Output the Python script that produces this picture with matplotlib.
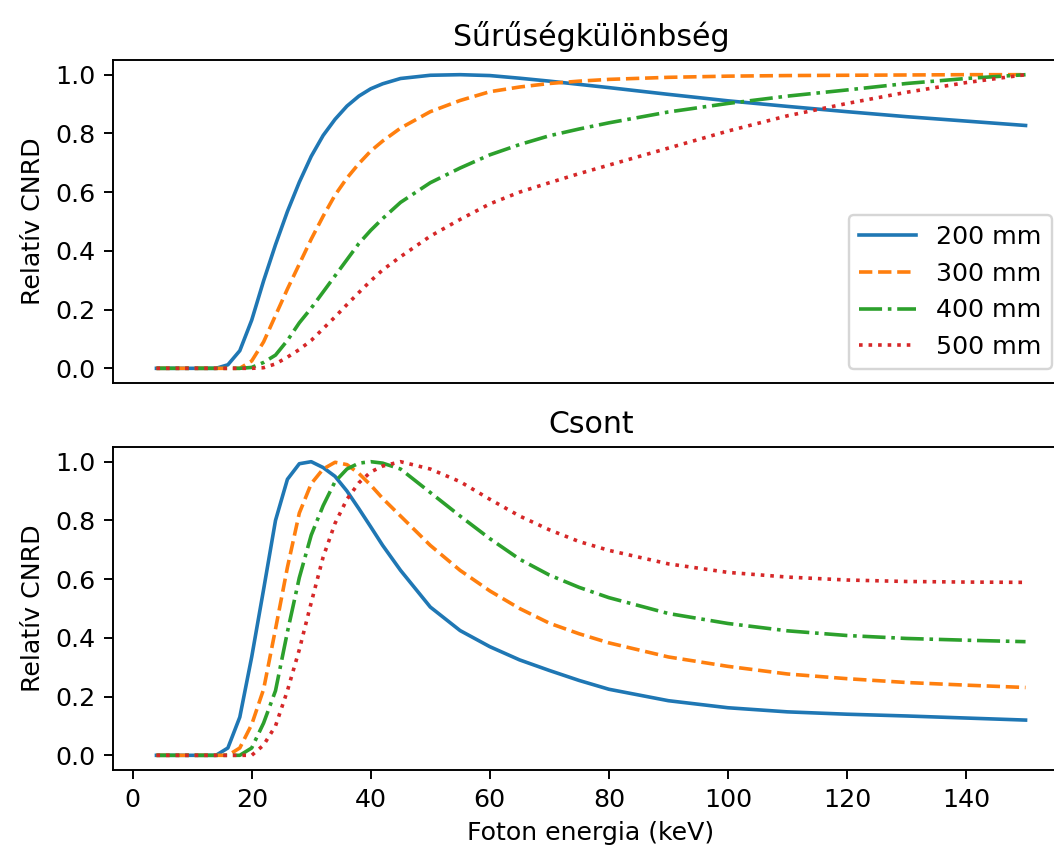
import numpy as np
import matplotlib
matplotlib.use('Agg')
import matplotlib.pyplot as plt

# Relative CNRD vs photon energy for different phantom thicknesses
energy = np.array([4, 10, 14, 16, 18, 20, 22, 24, 26, 28, 30, 32, 34, 36, 38, 40, 42, 45,
                   50, 55, 60, 65, 70, 75, 80, 90, 100, 110, 120, 130, 140, 150])  # keV

labels = ['200 mm', '300 mm', '400 mm', '500 mm']
styles = ['-', '--', '-.', ':']

# density difference contrast
dens_200 = [0, 0, 0, 0.012, 0.06, 0.164, 0.298, 0.421, 0.534, 0.634, 0.722, 0.793, 0.848, 0.893,
            0.927, 0.952, 0.969, 0.987, 0.998, 1.0, 0.997, 0.988, 0.978, 0.967, 0.956, 0.933,
            0.911, 0.892, 0.874, 0.857, 0.842, 0.827]
dens_300 = [0, 0, 0, 0, 0, 0.025, 0.09, 0.18, 0.27, 0.355, 0.44, 0.518, 0.59, 0.648, 0.697,
            0.74, 0.774, 0.818, 0.874, 0.912, 0.942, 0.958, 0.97, 0.978, 0.984, 0.991, 0.995,
            0.997, 0.998, 0.999, 1.0, 1.0]
dens_400 = [0, 0, 0, 0, 0, 0.003, 0.02, 0.045, 0.095, 0.155, 0.205, 0.26, 0.315, 0.37, 0.425,
            0.47, 0.51, 0.565, 0.632, 0.682, 0.727, 0.762, 0.792, 0.815, 0.836, 0.873, 0.902,
            0.927, 0.948, 0.97, 0.987, 1.0]
dens_500 = [0, 0, 0, 0, 0, 0, 0.002, 0.015, 0.038, 0.064, 0.095, 0.135, 0.175, 0.217, 0.258,
            0.298, 0.335, 0.38, 0.45, 0.507, 0.56, 0.6, 0.632, 0.663, 0.692, 0.75, 0.808,
            0.86, 0.902, 0.94, 0.973, 1.0]

# bone contrast
bone_200 = [0, 0, 0, 0.025, 0.13, 0.335, 0.565, 0.8, 0.94, 0.993, 1.0, 0.98, 0.95, 0.9, 0.84,
            0.778, 0.715, 0.63, 0.505, 0.425, 0.37, 0.325, 0.289, 0.255, 0.225, 0.186, 0.162,
            0.148, 0.14, 0.134, 0.127, 0.12]
bone_300 = [0, 0, 0, 0, 0.025, 0.105, 0.225, 0.43, 0.64, 0.825, 0.925, 0.975, 0.998, 0.99,
            0.96, 0.92, 0.875, 0.815, 0.715, 0.63, 0.56, 0.5, 0.45, 0.414, 0.383, 0.335, 0.303,
            0.277, 0.261, 0.248, 0.239, 0.231]
bone_400 = [0, 0, 0, 0, 0, 0.025, 0.11, 0.22, 0.42, 0.605, 0.75, 0.85, 0.932, 0.975, 0.995,
            1.0, 0.995, 0.975, 0.895, 0.815, 0.738, 0.668, 0.614, 0.572, 0.537, 0.483, 0.449,
            0.424, 0.408, 0.398, 0.392, 0.387]
bone_500 = [0, 0, 0, 0, 0, 0, 0.035, 0.1, 0.22, 0.36, 0.52, 0.675, 0.79, 0.872, 0.928, 0.965,
            0.985, 1.0, 0.975, 0.932, 0.872, 0.815, 0.768, 0.728, 0.698, 0.652, 0.623, 0.607,
            0.597, 0.592, 0.59, 0.589]

dens = [dens_200, dens_300, dens_400, dens_500]
bone = [bone_200, bone_300, bone_400, bone_500]

plt.rcParams['font.size'] = 10.5
plt.rcParams['axes.titlesize'] = 12.5
plt.rcParams['xtick.major.size'] = 3.9
plt.rcParams['ytick.major.size'] = 3.9

dpi = 173
W, H = 1054, 850
fig = plt.figure(figsize=(W / dpi, H / dpi), dpi=dpi)
ax1 = fig.add_axes([113 / W, (H - 383) / H, (1069 - 113) / W, 323 / H])
ax2 = fig.add_axes([113 / W, (H - 770) / H, (1069 - 113) / W, 323 / H])

for y, lab, ls in zip(dens, labels, styles):
    ax1.plot(energy, y, ls, label=lab)
for y, lab, ls in zip(bone, labels, styles):
    ax2.plot(energy, y, ls, label=lab)

ax1.set_title('Sűrűségkülönbség')
ax1.set_ylabel('Relatív CNRD')
ax1.set_xticks([])
ax1.legend(loc='lower right', bbox_to_anchor=(0.982, 0.043), borderaxespad=0,
           handlelength=2.25)

ax2.set_title('Csont')
ax2.set_ylabel('Relatív CNRD')
ax2.set_xlabel('Foton energia (keV)')
ax1.set_xlim(ax2.get_xlim())

fig.savefig('out.png', dpi=dpi)
